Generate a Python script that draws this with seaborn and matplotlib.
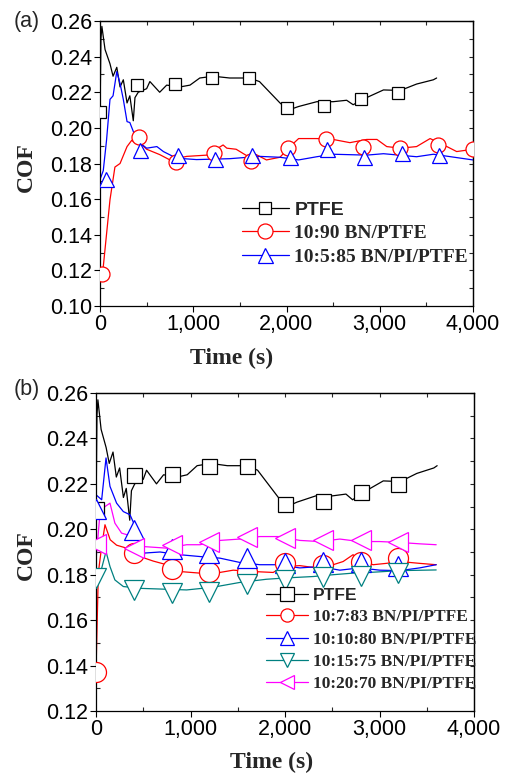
import numpy as np
import pandas as pd
import matplotlib
matplotlib.use("Agg")
import matplotlib.pyplot as plt
from matplotlib.lines import Line2D
from matplotlib.ticker import MultipleLocator, FuncFormatter
import seaborn as sns

# ---------------- data ----------------
# PTFE (same curve in both panels)
t_ptfe = [0, 2, 10, 20, 54, 107, 140, 180, 215, 250, 290, 320, 357, 375, 410, 500, 535,
          640, 715, 860, 965, 1070, 1215, 1390, 1600, 1710, 1820, 1930, 2020, 2130,
          2325, 2500, 2645, 2715, 2860, 3040, 3220, 3395, 3575, 3610]
c_ptfe = [0.209, 0.214, 0.250, 0.257, 0.244, 0.236, 0.229, 0.234, 0.223, 0.227, 0.214, 0.218,
          0.204, 0.217, 0.220, 0.222, 0.226, 0.220, 0.224, 0.223, 0.224, 0.228, 0.229, 0.228,
          0.228, 0.226, 0.220, 0.214, 0.210, 0.212, 0.2147, 0.2147, 0.2155, 0.213, 0.217,
          0.2213, 0.221, 0.2246, 0.227, 0.228]
mk_t_ptfe = [0, 400, 800, 1200, 1600, 2000, 2400, 2800, 3200]
mk_c_ptfe = [0.209, 0.2241, 0.2245, 0.2278, 0.2278, 0.211, 0.2123, 0.2162, 0.2198]

# (a) 10:90 BN/PTFE
t_a_bn = [0, 35, 107, 160, 215, 290, 340, 395, 410, 500, 640, 750, 930, 1145, 1320, 1360,
          1460, 1570, 1675, 1785, 1930, 2020, 2130, 2325, 2500, 2680, 2860, 2970, 3075, 3220,
          3395, 3540, 3720, 3825, 4000]
c_a_bn = [0.118, 0.122, 0.1596, 0.178, 0.180, 0.1895, 0.193, 0.191, 0.1925, 0.188, 0.185,
          0.182, 0.184, 0.1847, 0.1904, 0.1886, 0.188, 0.1845, 0.185, 0.182, 0.1835, 0.1886,
          0.194, 0.194, 0.1935, 0.1917, 0.1935, 0.1935, 0.1895, 0.1886, 0.1895, 0.194,
          0.1895, 0.1867, 0.188]
mk_t_a_bn = [20, 420, 820, 1220, 1620, 2020, 2420, 2820, 3220, 3620, 4000]
mk_c_a_bn = [0.1179, 0.1948, 0.1811, 0.1858, 0.1816, 0.1886, 0.1936, 0.1895, 0.1886, 0.1904, 0.1883]

# (a) 10:5:85 BN/PI/PTFE
t_a_bpp = [0, 35, 70, 107, 140, 180, 215, 250, 290, 320, 357, 410, 500, 610, 680, 820,
           1035, 1390, 1710, 1930, 2130, 2325, 2500, 2860, 3040, 3395, 3575, 4000]
c_a_bpp = [0.171, 0.176, 0.193, 0.216, 0.218, 0.2316, 0.225, 0.216, 0.2035, 0.203, 0.198,
           0.1923, 0.1886, 0.1895, 0.1867, 0.183, 0.1822, 0.1827, 0.184, 0.1835, 0.182,
           0.1838, 0.1852, 0.1847, 0.1855, 0.1838, 0.1852, 0.182]
mk_t_a_bpp = [60, 430, 835, 1235, 1630, 2035, 2435, 2830, 3240, 3635]
mk_c_a_bpp = [0.1713, 0.1876, 0.185, 0.1826, 0.1848, 0.1835, 0.188, 0.1836, 0.1858, 0.1845]

# (b) 10:7:83 BN/PI/PTFE
t_b7 = [0, 25, 60, 95, 150, 218, 324, 465, 606, 747, 888, 1100, 1311, 1452, 1663, 1875,
        1980, 2157, 2333, 2509, 2615, 2720, 2791, 2932, 3073, 3214, 3425, 3600]
c_b7 = [0.1373, 0.181, 0.1924, 0.202, 0.1954, 0.193, 0.1917, 0.188, 0.186, 0.1844, 0.1814,
        0.1807, 0.181, 0.182, 0.1814, 0.181, 0.1836, 0.184, 0.183, 0.1844, 0.1858, 0.1888,
        0.1866, 0.1844, 0.185, 0.1858, 0.185, 0.1844]
mk_t_b7 = [0, 400, 800, 1200, 1600, 2000, 2400, 2800, 3200]
mk_c_b7 = [0.1373, 0.1895, 0.1824, 0.181, 0.1812, 0.185, 0.1844, 0.1858, 0.1873]

# (b) 10:10:80 BN/PI/PTFE
t_b10 = [0, 60, 106, 148, 218, 289, 360, 430, 500, 677, 888, 1100, 1311, 1522, 1734, 1910,
         2157, 2368, 2580, 2791, 3002, 3214, 3425, 3600]
c_b10 = [0.2152, 0.213, 0.2314, 0.2189, 0.2115, 0.2078, 0.2064, 0.1998, 0.1895, 0.190,
         0.1888, 0.188, 0.1873, 0.1854, 0.1844, 0.1844, 0.183, 0.1836, 0.182, 0.183, 0.182,
         0.1818, 0.183, 0.1844]
mk_t_b10 = [0, 400, 800, 1200, 1600, 2000, 2400, 2800, 3200]
mk_c_b10 = [0.209, 0.1998, 0.1914, 0.1895, 0.1873, 0.1851, 0.1854, 0.1854, 0.1840]

# (b) 10:15:75 BN/PI/PTFE
t_b15 = [0, 42, 106, 148, 200, 289, 465, 747, 959, 1240, 1522, 1804, 2016, 2298, 2509,
         2720, 2932, 3214, 3600]
c_b15 = [0.1763, 0.180, 0.1902, 0.1836, 0.1777, 0.1748, 0.174, 0.1736, 0.1733, 0.1745,
         0.1766, 0.178, 0.1786, 0.1792, 0.180, 0.1807, 0.1811, 0.1818, 0.1821]
mk_t_b15 = [0, 400, 800, 1200, 1600, 2000, 2400, 2800, 3200]
mk_c_b15 = [0.1785, 0.1733, 0.1719, 0.1726, 0.176, 0.1777, 0.1792, 0.1793, 0.1807]

# (b) 10:20:70 BN/PI/PTFE
t_b20 = [0, 42, 95, 148, 200, 271, 395, 500, 747, 959, 1100, 1311, 1522, 1734, 1945, 2157,
         2368, 2580, 2791, 3002, 3214, 3425, 3600]
c_b20 = [0.1865, 0.207, 0.210, 0.2115, 0.2027, 0.1983, 0.1968, 0.1924, 0.1917, 0.1932,
         0.1932, 0.1951, 0.1957, 0.1968, 0.1968, 0.1951, 0.1946, 0.1957, 0.1946, 0.1946,
         0.1942, 0.1936, 0.1932]
mk_t_b20 = [0, 400, 800, 1200, 1600, 2000, 2400, 2800, 3200]
mk_c_b20 = [0.1936, 0.1917, 0.1929, 0.1946, 0.1965, 0.1961, 0.1954, 0.1951, 0.1946]

labels_a = ["PTFE", "10:90 BN/PTFE", "10:5:85 BN/PI/PTFE"]
labels_b = ["PTFE", "10:7:83 BN/PI/PTFE", "10:10:80 BN/PI/PTFE",
            "10:15:75 BN/PI/PTFE", "10:20:70 BN/PI/PTFE"]
x_ticks = [0, 1000, 2000, 3000, 4000]

# ---------------- styling ----------------
sns.set_theme(style="ticks")
plt.rcParams['font.family'] = ['Liberation Sans', 'DejaVu Sans']
plt.rcParams['axes.linewidth'] = 0.9

BLACK, RED, BLUE, TEAL, MAG = "#000000", "#ff0000", "#0000ff", "#008080", "#ff00ff"
SERIF_B = dict(family=['Liberation Serif', 'DejaVu Serif'], weight='bold')
TICK_FS = 15.5

fig = plt.figure(figsize=(5.05, 7.75), dpi=100)
W, H = 505, 775
def ax_rect(l, r, t, b):
    return [l / W, 1 - b / H, (r - l) / W, (b - t) / H]

ax_a = fig.add_axes(ax_rect(100, 473, 21, 306))
ax_b = fig.add_axes(ax_rect(96, 474, 393, 711))


def draw_series(ax, t, c, mt, mc, color, marker, ms):
    sns.lineplot(x=t, y=c, ax=ax, color=color, lw=0.9, estimator=None, sort=False,
                 legend=False, zorder=2)
    sns.lineplot(x=mt, y=mc, ax=ax, color=color, lw=0, marker=marker, markersize=ms,
                 markerfacecolor='white', markeredgecolor=color, markeredgewidth=0.9,
                 estimator=None, sort=False, legend=False, zorder=3)


def style_axes(ax, ylo, yhi):
    ax.set_xlim(0, 4000)
    ax.set_ylim(ylo, yhi)
    ax.set_xticks(x_ticks)
    ax.xaxis.set_minor_locator(MultipleLocator(500))
    ax.yaxis.set_major_locator(MultipleLocator(0.02))
    ax.yaxis.set_minor_locator(MultipleLocator(0.01))
    ax.xaxis.set_major_formatter(FuncFormatter(lambda v, p: f"{int(round(v)):,}"))
    ax.yaxis.set_major_formatter(FuncFormatter(lambda v, p: f"{v:.2f}"))
    ax.tick_params(which='major', direction='out', length=4, width=0.8,
                   labelsize=TICK_FS, pad=1.5, colors='black')
    ax.tick_params(which='minor', direction='in', length=3, width=0.8)
    for s in ax.spines.values():
        s.set_visible(True)
        s.set_color('black')
    top = ax.secondary_xaxis('top')
    top.set_xticks(x_ticks)
    top.xaxis.set_minor_locator(MultipleLocator(500))
    top.tick_params(which='both', direction='in', length=3, width=0.8, labeltop=False)
    right = ax.secondary_yaxis('right')
    right.yaxis.set_major_locator(MultipleLocator(0.02))
    right.yaxis.set_minor_locator(MultipleLocator(0.01))
    right.tick_params(which='both', direction='in', length=3, width=0.8, labelright=False)


# ---------------- panel (a) ----------------
draw_series(ax_a, t_ptfe, c_ptfe, mk_t_ptfe, mk_c_ptfe, BLACK, 's', 8.6)
draw_series(ax_a, t_a_bn, c_a_bn, mk_t_a_bn, mk_c_a_bn, RED, 'o', 10.8)
draw_series(ax_a, t_a_bpp, c_a_bpp, mk_t_a_bpp, mk_c_a_bpp, BLUE, '^', 10.8)
style_axes(ax_a, 0.10, 0.26)

# ---------------- panel (b) ----------------
draw_series(ax_b, t_ptfe, c_ptfe, mk_t_ptfe, mk_c_ptfe, BLACK, 's', 10.8)
draw_series(ax_b, t_b7, c_b7, mk_t_b7, mk_c_b7, RED, 'o', 14.4)
draw_series(ax_b, t_b10, c_b10, mk_t_b10, mk_c_b10, BLUE, '^', 14.4)
draw_series(ax_b, t_b15, c_b15, mk_t_b15, mk_c_b15, TEAL, 'v', 14.4)
draw_series(ax_b, t_b20, c_b20, mk_t_b20, mk_c_b20, MAG, '<', 14.4)
style_axes(ax_b, 0.12, 0.26)

for ax in (ax_a, ax_b):
    ax.set_xlabel("Time (s)", fontdict=dict(size=17, **SERIF_B))
    ax.set_ylabel("COF", fontdict=dict(size=17, **SERIF_B))

# place axis labels in figure pixel positions
def place_labels(ax, xl_px, yl_px, cof_x_px, cof_y_px):
    inv = ax.transAxes.inverted()
    x_ax, y_ax = inv.transform((xl_px, H - yl_px))
    ax.xaxis.set_label_coords(x_ax, y_ax)
    ax.xaxis.label.set_va('center')
    x2, y2 = inv.transform((cof_x_px, H - cof_y_px))
    ax.yaxis.set_label_coords(x2, y2)
    ax.yaxis.label.set_va('center')

fig.canvas.draw()
place_labels(ax_a, 232, 358, 26, 167)
place_labels(ax_b, 272, 762, 26, 555)

fig.text(14 / W, 1 - 22 / H, "(a)", fontsize=TICK_FS, va='center', ha='left')
fig.text(14 / W, 1 - 389 / H, "(b)", fontsize=TICK_FS, va='center', ha='left')

# ---------------- legends ----------------
def make_legend(ax, colors, markers, labels, ms_list, fs, top_px, left_px, spacing):
    handles = [Line2D([], [], color=c, lw=0.9, marker=m, markersize=s,
                      markerfacecolor='white', markeredgecolor=c, markeredgewidth=0.9)
               for c, m, s in zip(colors, markers, ms_list)]
    leg = ax.legend(handles, labels, loc='upper left',
                    bbox_to_anchor=(left_px / W, 1 - top_px / H),
                    bbox_transform=fig.transFigure, frameon=False, fontsize=fs,
                    handlelength=2.4, handletextpad=0.3, borderpad=0, borderaxespad=0,
                    labelspacing=spacing)
    for i, txt in enumerate(leg.get_texts()):
        if i == 0:
            txt.set_fontfamily(['Liberation Sans', 'DejaVu Sans'])
        else:
            txt.set_fontfamily(['Liberation Serif', 'DejaVu Serif'])
        txt.set_fontweight('bold')
    return leg

make_legend(ax_a, [BLACK, RED, BLUE], ['s', 'o', '^'], labels_a, [9, 10.8, 10.8],
            14, 201, 242, 0.3)
make_legend(ax_b, [BLACK, RED, BLUE, TEAL, MAG], ['s', 'o', '^', 'v', '<'], labels_b,
            [9.5, 9.5, 10, 10, 10], 12.5, 588, 266, 0.35)

fig.savefig("out.png", dpi=100)
